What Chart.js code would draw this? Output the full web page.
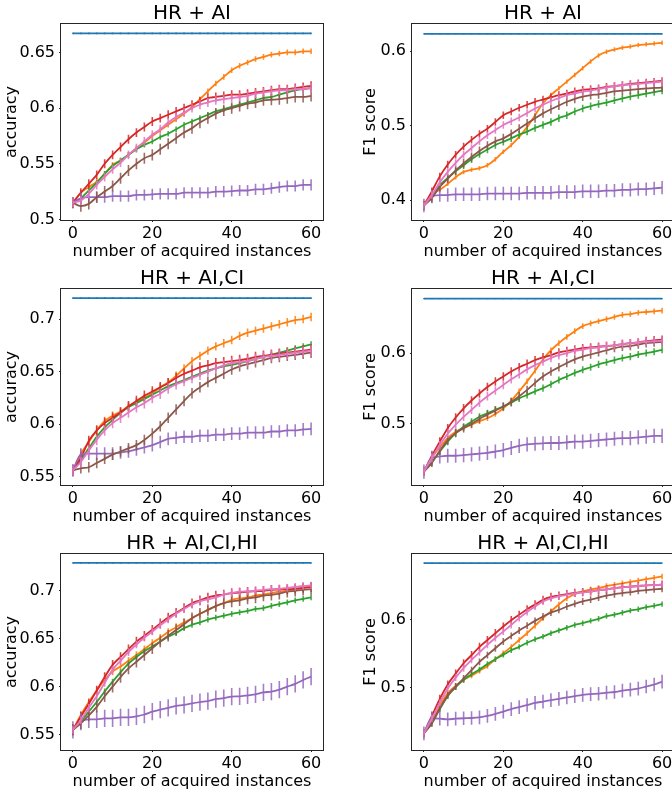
<!DOCTYPE html>
<html>
<head>
<meta charset="utf-8">
<script src="https://cdn.jsdelivr.net/npm/chart.js@4/dist/chart.umd.min.js"></script>
<style>
body{margin:0;background:#fff;}
#fig{position:relative;width:672px;height:795px;overflow:hidden;background:#fff;}
canvas{position:absolute;}
</style>
</head>
<body>
<div id="fig"></div>
<script>
// x positions (number of acquired instances)
const xs = [0,2,4,6,8,10,12,14,16,18,20,22,24,26,28,30,32,34,36,38,40,42,44,46,48,50,52,54,56,58,60];
const xTicks = [0,20,40,60];

// series order in each panel: orange, green, red, purple, brown, pink
const accAI = [
  [0.515,0.524,0.529,0.534,0.541,0.549,0.553,0.558,0.564,0.569,0.575,0.580,0.585,0.590,0.595,0.601,0.608,0.615,0.622,0.628,0.634,0.638,0.641,0.644,0.646,0.648,0.649,0.650,0.650,0.651,0.651],
  [0.515,0.519,0.526,0.533,0.541,0.548,0.553,0.558,0.563,0.567,0.570,0.574,0.577,0.581,0.585,0.588,0.591,0.594,0.597,0.599,0.601,0.603,0.605,0.607,0.609,0.610,0.612,0.614,0.616,0.617,0.618],
  [0.515,0.524,0.532,0.540,0.550,0.558,0.565,0.572,0.578,0.583,0.588,0.591,0.594,0.597,0.600,0.603,0.606,0.609,0.610,0.611,0.612,0.612,0.613,0.614,0.615,0.616,0.617,0.617,0.618,0.619,0.620],
  [0.515,0.519,0.520,0.520,0.520,0.521,0.521,0.521,0.522,0.522,0.5225,0.523,0.523,0.523,0.524,0.524,0.524,0.524,0.525,0.525,0.5255,0.526,0.526,0.527,0.527,0.528,0.529,0.530,0.530,0.531,0.531],
  [0.515,0.512,0.514,0.520,0.525,0.530,0.537,0.544,0.550,0.555,0.558,0.563,0.568,0.573,0.578,0.582,0.587,0.591,0.595,0.598,0.600,0.602,0.604,0.605,0.607,0.6075,0.608,0.609,0.610,0.610,0.611],
  [0.515,0.517,0.523,0.531,0.538,0.545,0.551,0.558,0.564,0.570,0.576,0.581,0.587,0.592,0.596,0.600,0.603,0.605,0.607,0.608,0.609,0.610,0.611,0.613,0.614,0.615,0.616,0.616,0.617,0.617,0.618]
];
const f1AI = [
  [0.395,0.408,0.414,0.422,0.431,0.438,0.441,0.443,0.447,0.455,0.465,0.474,0.485,0.498,0.514,0.530,0.541,0.550,0.559,0.568,0.577,0.586,0.594,0.599,0.602,0.6045,0.606,0.608,0.609,0.610,0.611],
  [0.393,0.405,0.420,0.430,0.439,0.447,0.455,0.462,0.468,0.474,0.4785,0.483,0.488,0.492,0.497,0.501,0.505,0.510,0.514,0.519,0.523,0.526,0.529,0.531,0.534,0.5365,0.539,0.541,0.543,0.545,0.547],
  [0.393,0.412,0.432,0.448,0.461,0.472,0.481,0.489,0.496,0.505,0.514,0.519,0.524,0.528,0.532,0.535,0.538,0.541,0.543,0.546,0.548,0.549,0.550,0.552,0.553,0.5545,0.556,0.557,0.558,0.559,0.560],
  [0.393,0.405,0.407,0.407,0.408,0.408,0.408,0.408,0.409,0.409,0.409,0.409,0.409,0.410,0.410,0.410,0.410,0.411,0.411,0.411,0.412,0.412,0.412,0.413,0.413,0.414,0.414,0.415,0.415,0.416,0.417],
  [0.393,0.403,0.418,0.429,0.440,0.4495,0.458,0.466,0.473,0.479,0.483,0.489,0.496,0.503,0.510,0.5165,0.522,0.527,0.532,0.536,0.539,0.541,0.542,0.544,0.546,0.547,0.548,0.549,0.550,0.5505,0.551],
  [0.393,0.407,0.424,0.438,0.450,0.461,0.470,0.479,0.487,0.494,0.501,0.506,0.511,0.517,0.523,0.528,0.533,0.537,0.541,0.543,0.5455,0.547,0.549,0.551,0.553,0.5545,0.555,0.556,0.557,0.558,0.559]
];
const accAICI = [
  [0.556,0.572,0.583,0.594,0.603,0.608,0.612,0.617,0.621,0.625,0.6295,0.635,0.640,0.646,0.653,0.660,0.665,0.670,0.674,0.677,0.680,0.684,0.687,0.689,0.691,0.693,0.695,0.697,0.699,0.700,0.702],
  [0.556,0.566,0.577,0.588,0.597,0.604,0.611,0.616,0.620,0.624,0.628,0.632,0.636,0.639,0.642,0.645,0.648,0.651,0.653,0.655,0.6565,0.658,0.660,0.662,0.664,0.666,0.668,0.670,0.672,0.674,0.676],
  [0.556,0.568,0.584,0.594,0.601,0.606,0.611,0.617,0.622,0.627,0.631,0.635,0.639,0.644,0.648,0.651,0.654,0.656,0.658,0.659,0.660,0.661,0.662,0.664,0.665,0.666,0.667,0.668,0.669,0.670,0.671],
  [0.556,0.571,0.572,0.572,0.572,0.572,0.573,0.574,0.576,0.578,0.580,0.583,0.586,0.587,0.588,0.588,0.589,0.589,0.590,0.590,0.591,0.591,0.592,0.592,0.592,0.593,0.593,0.594,0.594,0.595,0.5955],
  [0.556,0.558,0.559,0.563,0.567,0.571,0.574,0.577,0.580,0.585,0.591,0.598,0.606,0.614,0.622,0.6295,0.635,0.640,0.644,0.648,0.652,0.655,0.657,0.659,0.661,0.663,0.664,0.665,0.666,0.667,0.668],
  [0.556,0.564,0.575,0.585,0.594,0.601,0.606,0.611,0.616,0.620,0.625,0.629,0.634,0.638,0.641,0.644,0.647,0.650,0.653,0.656,0.658,0.659,0.660,0.662,0.664,0.665,0.666,0.667,0.668,0.669,0.670]
];
const f1AICI = [
  [0.4325,0.452,0.467,0.480,0.489,0.494,0.499,0.504,0.508,0.514,0.522,0.533,0.546,0.560,0.575,0.591,0.604,0.614,0.623,0.631,0.638,0.642,0.645,0.648,0.651,0.654,0.655,0.657,0.658,0.659,0.660],
  [0.4325,0.446,0.461,0.475,0.487,0.496,0.503,0.510,0.515,0.520,0.5245,0.530,0.536,0.541,0.546,0.5505,0.556,0.562,0.567,0.572,0.5764,0.580,0.584,0.587,0.590,0.593,0.595,0.598,0.600,0.602,0.6047],
  [0.4325,0.455,0.475,0.494,0.509,0.522,0.533,0.543,0.552,0.560,0.567,0.574,0.580,0.585,0.590,0.594,0.597,0.601,0.603,0.605,0.607,0.608,0.609,0.610,0.611,0.6127,0.614,0.615,0.617,0.618,0.619],
  [0.4325,0.452,0.454,0.455,0.455,0.456,0.457,0.458,0.459,0.461,0.463,0.466,0.469,0.471,0.472,0.4726,0.473,0.473,0.474,0.475,0.475,0.476,0.477,0.478,0.479,0.480,0.480,0.481,0.482,0.483,0.483],
  [0.4325,0.445,0.462,0.477,0.487,0.494,0.500,0.507,0.513,0.519,0.5245,0.531,0.539,0.548,0.558,0.567,0.574,0.580,0.586,0.591,0.595,0.598,0.601,0.604,0.607,0.609,0.610,0.612,0.614,0.615,0.6156],
  [0.4325,0.452,0.470,0.486,0.499,0.510,0.520,0.530,0.539,0.547,0.555,0.563,0.570,0.577,0.583,0.588,0.593,0.597,0.600,0.603,0.605,0.607,0.608,0.610,0.611,0.6127,0.614,0.615,0.616,0.617,0.6175]
];
const accAICIHI = [
  [0.555,0.5705,0.584,0.596,0.607,0.6158,0.621,0.627,0.633,0.639,0.6454,0.651,0.657,0.662,0.667,0.6714,0.676,0.680,0.684,0.687,0.6906,0.692,0.693,0.695,0.696,0.6976,0.699,0.700,0.702,0.703,0.705],
  [0.555,0.5636,0.574,0.584,0.595,0.6053,0.615,0.624,0.631,0.637,0.6419,0.647,0.652,0.656,0.661,0.6645,0.667,0.670,0.672,0.674,0.676,0.6775,0.679,0.681,0.682,0.6843,0.686,0.688,0.690,0.6915,0.693],
  [0.555,0.569,0.582,0.596,0.610,0.6227,0.631,0.639,0.647,0.653,0.6593,0.666,0.672,0.677,0.682,0.687,0.690,0.693,0.695,0.696,0.6976,0.698,0.699,0.6995,0.700,0.701,0.7013,0.7017,0.702,0.703,0.7038],
  [0.555,0.5636,0.566,0.566,0.567,0.567,0.568,0.568,0.569,0.571,0.574,0.576,0.578,0.580,0.581,0.5827,0.584,0.585,0.587,0.588,0.5897,0.590,0.591,0.592,0.594,0.5949,0.597,0.600,0.603,0.607,0.6105],
  [0.555,0.5618,0.570,0.579,0.590,0.600,0.610,0.619,0.626,0.633,0.640,0.647,0.653,0.659,0.665,0.6714,0.676,0.680,0.684,0.687,0.6889,0.690,0.692,0.693,0.695,0.6958,0.697,0.699,0.700,0.701,0.7017],
  [0.555,0.565,0.578,0.590,0.604,0.6175,0.627,0.636,0.644,0.651,0.6575,0.664,0.670,0.676,0.681,0.6854,0.689,0.691,0.693,0.696,0.6976,0.699,0.6995,0.700,0.701,0.7017,0.702,0.703,0.704,0.705,0.7055]
];
const f1AICIHI = [
  [0.4336,0.452,0.474,0.492,0.503,0.5117,0.518,0.525,0.532,0.542,0.5508,0.560,0.570,0.580,0.591,0.602,0.612,0.622,0.631,0.637,0.641,0.644,0.646,0.649,0.651,0.653,0.655,0.657,0.659,0.661,0.663],
  [0.4336,0.449,0.469,0.488,0.501,0.5117,0.520,0.527,0.535,0.542,0.5483,0.555,0.560,0.566,0.571,0.575,0.580,0.584,0.588,0.592,0.5947,0.598,0.601,0.605,0.607,0.610,0.613,0.615,0.618,0.620,0.6225],
  [0.4336,0.459,0.484,0.505,0.521,0.536,0.548,0.560,0.570,0.580,0.5898,0.599,0.607,0.615,0.622,0.6288,0.633,0.635,0.637,0.639,0.640,0.641,0.643,0.644,0.646,0.6474,0.648,0.649,0.650,0.6505,0.651],
  [0.4336,0.4556,0.455,0.454,0.455,0.4556,0.456,0.457,0.459,0.462,0.4653,0.469,0.472,0.475,0.478,0.480,0.482,0.484,0.486,0.488,0.4898,0.491,0.4915,0.493,0.494,0.496,0.4975,0.499,0.502,0.505,0.5093],
  [0.4336,0.448,0.470,0.489,0.502,0.514,0.526,0.538,0.548,0.558,0.5678,0.576,0.584,0.591,0.598,0.6044,0.610,0.614,0.619,0.623,0.6264,0.629,0.632,0.635,0.637,0.6386,0.640,0.642,0.643,0.644,0.645],
  [0.4336,0.455,0.478,0.499,0.515,0.5288,0.541,0.552,0.563,0.573,0.5825,0.592,0.602,0.611,0.619,0.6264,0.631,0.634,0.636,0.638,0.6396,0.641,0.643,0.644,0.646,0.647,0.648,0.649,0.650,0.6505,0.651]
];

// error bar half widths, same series order
const errAccAI = [0.0025,0.0025,0.004,0.005,0.005,0.004];
const errF1AI = [0.003,0.005,0.005,0.009,0.006,0.005];
const errAccAICI = [0.004,0.003,0.005,0.006,0.005,0.005];
const errF1AICI = [0.004,0.005,0.006,0.010,0.006,0.006];
const errAccAICIHI = [0.004,0.003,0.005,0.009,0.006,0.004];
const errF1AICIHI = [0.004,0.004,0.006,0.010,0.005,0.005];

// blue reference level per panel
const blueLevels = [0.667, 0.623, 0.720, 0.677, 0.729, 0.6826];

const yTicksAcc1 = [0.5,0.55,0.6,0.65];
const yTicksF1a = [0.4,0.5,0.6];
const yTicksAcc2 = [0.55,0.6,0.65,0.7];
const yTicksF1b = [0.5,0.6];

const FONT = "'DejaVu Sans', sans-serif";
const colors = ['#ff7f0e','#2ca02c','#d62728','#9467bd','#8c564b','#e377c2'];

const panels = [
  {title:'HR + AI', ylabel:'accuracy', data:accAI, err:errAccAI, blue:blueLevels[0], ymin:0.4995, ymax:0.6755, yticks:yTicksAcc1},
  {title:'HR + AI', ylabel:'F1 score', data:f1AI, err:errF1AI, blue:blueLevels[1], ymin:0.3736, ymax:0.6362, yticks:yTicksF1a},
  {title:'HR + AI,CI', ylabel:'accuracy', data:accAICI, err:errAccAICI, blue:blueLevels[2], ymin:0.5421, ymax:0.7286, yticks:yTicksAcc2},
  {title:'HR + AI,CI', ylabel:'F1 score', data:f1AICI, err:errF1AICI, blue:blueLevels[3], ymin:0.4137, ymax:0.6905, yticks:yTicksF1b},
  {title:'HR + AI,CI,HI', ylabel:'accuracy', data:accAICIHI, err:errAccAICIHI, blue:blueLevels[4], ymin:0.534, ymax:0.7383, yticks:yTicksAcc2},
  {title:'HR + AI,CI,HI', ylabel:'F1 score', data:f1AICIHI, err:errF1AICIHI, blue:blueLevels[5], ymin:0.4092, ymax:0.6958, yticks:yTicksF1b}
];

// vertical error bars, drawn just before each dataset's line
const errorBars = {
  id: 'errorBars',
  beforeDatasetDraw(chart, args) {
    const ds = chart.data.datasets[args.index];
    if (ds.err === undefined) return;
    const {ctx, chartArea: a, scales: {x, y}} = chart;
    ctx.save();
    ctx.beginPath();
    ctx.rect(a.left, a.top, a.right - a.left, a.bottom - a.top);
    ctx.clip();
    ctx.strokeStyle = ds.borderColor;
    ctx.globalAlpha = 0.85;
    ctx.lineWidth = 1.6;
    ctx.beginPath();
    ds.data.forEach(function (p) {
      const px = x.getPixelForValue(p.x);
      ctx.moveTo(px, y.getPixelForValue(p.y - ds.err));
      ctx.lineTo(px, y.getPixelForValue(p.y + ds.err));
    });
    ctx.stroke();
    ctx.restore();
  }
};

const frame = {
  id: 'frame',
  afterDraw(chart) {
    const {ctx, chartArea: a} = chart;
    ctx.save();
    ctx.strokeStyle = '#262626';
    ctx.lineWidth = 1;
    ctx.strokeRect(Math.round(a.left) - 0.5, Math.round(a.top) - 0.5, Math.round(a.right - a.left) + 1, Math.round(a.bottom - a.top) + 1);
    ctx.restore();
  }
};

const fig = document.getElementById('fig');

panels.forEach(function (p, i) {
  const col = i % 2, row = Math.floor(i / 2);
  const cv = document.createElement('canvas');
  const w = col === 0 ? 336 : 345;
  cv.width = w; cv.height = 265;
  cv.style.left = (col * 336) + 'px';
  cv.style.top = (row * 265) + 'px';
  fig.appendChild(cv);

  const datasets = [{
    data: xs.map(function (x) { return {x: x, y: p.blue}; }),
    borderColor: '#1f77b4', borderWidth: 1.8, pointRadius: 0,
    err: 0.0008, order: 6
  }];
  p.data.forEach(function (vals, k) {
    datasets.push({
      data: vals.map(function (v, j) { return {x: xs[j], y: v}; }),
      borderColor: colors[k], borderWidth: 1.8, pointRadius: 0,
      cubicInterpolationMode: 'monotone',
      err: p.err[k], order: 5 - k
    });
  });

  new Chart(cv, {
    type: 'line',
    data: {datasets: datasets},
    plugins: [errorBars, frame],
    options: {
      responsive: false, animation: false, devicePixelRatio: 1,
      layout: {padding: {left: 0, right: col === 0 ? 13 : 7, top: 0, bottom: 0}},
      plugins: {
        legend: {display: false}, tooltip: {enabled: false},
        title: {display: true, text: p.title, fullSize: false, color: '#000',
          font: {family: FONT, size: 20, weight: 'normal', lineHeight: 1},
          padding: {top: 4, bottom: 0}}
      },
      scales: {
        x: {
          type: 'linear', min: -3, max: 63,
          afterBuildTicks: function (s) { s.ticks = xTicks.map(function (v) { return {value: v}; }); },
          afterFit: function (s) { s.height = 45; },
          ticks: {color: '#000', font: {family: FONT, size: 16}, padding: 2, autoSkip: false, maxRotation: 0},
          grid: {drawOnChartArea: false, drawTicks: true, tickLength: 2, color: '#262626'},
          border: {display: false},
          title: {display: true, text: 'number of acquired instances', color: '#000',
            font: {family: FONT, size: 16}, padding: {top: 0, bottom: 3.6}}
        },
        y: {
          type: 'linear', min: p.ymin, max: p.ymax,
          afterBuildTicks: function (s) { s.ticks = p.yticks.map(function (v) { return {value: v}; }); },
          afterFit: function (s) { s.width = col === 0 ? 61 : 76; },
          ticks: {color: '#000', font: {family: FONT, size: 16}, padding: 4, autoSkip: false,
            callback: function (v) { return String(+v.toFixed(2)); }},
          grid: {drawOnChartArea: false, drawTicks: true, tickLength: 2, color: '#262626'},
          border: {display: false},
          title: {display: true, text: p.ylabel, color: '#000',
            font: {family: FONT, size: 16}, padding: {top: col === 0 ? 1.9 : 25.4, bottom: 0}}
        }
      }
    }
  });
});
</script>
</body>
</html>
